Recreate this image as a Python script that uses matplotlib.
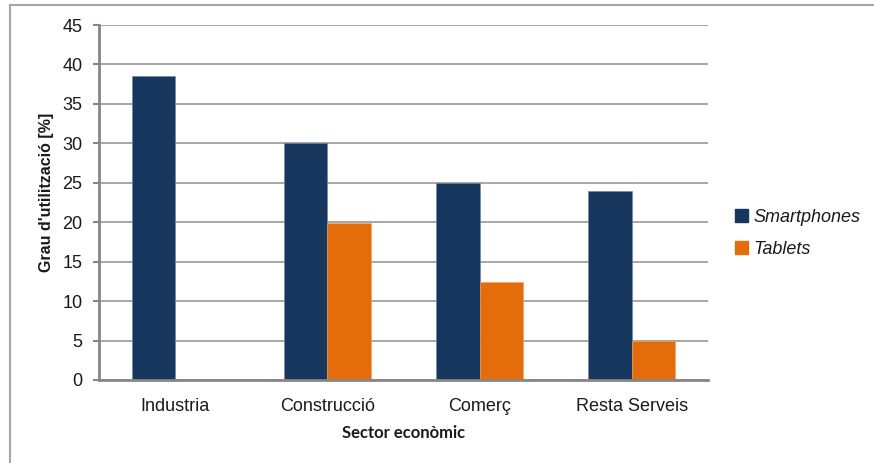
import matplotlib
matplotlib.use("Agg")
import matplotlib.pyplot as plt
from matplotlib.lines import Line2D
from matplotlib.patches import Patch
import numpy as np

categories = ["Industria", "Construcció", "Comerç", "Resta Serveis"]
smartphones = [38.5, 30.0, 25.0, 24.0]
tablets = [0.0, 19.9, 12.4, 4.9]
series_names = ["Smartphones", "Tablets"]
y_ticks = [0, 5, 10, 15, 20, 25, 30, 35, 40, 45]

plt.rcParams["font.family"] = ["Liberation Sans", "DejaVu Sans"]

navy = "#17375E"
orange = "#E46C0A"
grid_col = "#A0A0A0"
axis_col = "#868686"

W, H = 874, 463
fig = plt.figure(figsize=(W / 100, H / 100), dpi=100)
fig.patch.set_facecolor("white")

ax = fig.add_axes([99 / W, 1 - 380 / H, (708 - 99) / W, (380 - 25) / H])

x = np.arange(len(categories))
bw = 1 / 3.5
ax.bar(x - bw / 2, smartphones, width=bw, color=navy, edgecolor="#6F82A0",
       linewidth=0.4, zorder=3)
ax.bar(x + bw / 2, tablets, width=bw, color=orange, edgecolor="#F0A060",
       linewidth=0.4, zorder=3)

ax.set_xlim(-0.5, len(categories) - 0.5)
ax.set_ylim(0, 45)
ax.set_yticks(y_ticks)
ax.set_xticks(x)
ax.set_xticklabels(categories)

ax.yaxis.grid(True, color=grid_col, linewidth=1.3, zorder=0)
ax.set_axisbelow(True)
for s in ["top", "right"]:
    ax.spines[s].set_visible(False)
for s in ["left", "bottom"]:
    ax.spines[s].set_color(axis_col)
    ax.spines[s].set_linewidth(2)
    ax.spines[s].set_zorder(4)

ax.tick_params(axis="y", direction="out", length=4.5, width=1.5, color=axis_col,
               pad=7.5, labelsize=13, labelcolor="#1a1a1a")
ax.tick_params(axis="x", length=0, pad=13, labelsize=13, labelcolor="#1a1a1a")

fig.text(47 / W, 1 - 192 / H, "Grau d'utilització [%]", rotation=90,
         ha="center", va="center", family="Liberation Sans", weight="bold",
         size=11.5, color="#1a1a1a")
fig.text(404 / W, 1 - 433 / H, "Sector econòmic", ha="center", va="center",
         family="Lato", weight="bold", size=12, color="#1a1a1a")

handles = [Patch(facecolor=navy, edgecolor=navy),
           Patch(facecolor=orange, edgecolor=orange)]
leg = fig.legend(handles, series_names, loc="upper left",
                 bbox_to_anchor=(731 / W, 1 - 205 / H), frameon=False,
                 prop=dict(family="Liberation Sans", style="italic", size=13),
                 handlelength=0.75, handleheight=0.75, handletextpad=0.3,
                 labelspacing=0.85, borderaxespad=0, borderpad=0.2)
for t in leg.get_texts():
    t.set_color("#1a1a1a")

# chart area frame (top and left edges)
fig.add_artist(Line2D([10 / W, 1], [1 - 5 / H, 1 - 5 / H], color="#A6A6A6",
                      linewidth=1.5, transform=fig.transFigure))
fig.add_artist(Line2D([10 / W, 10 / W], [0, 1 - 5 / H], color="#A6A6A6",
                      linewidth=1.5, transform=fig.transFigure))

fig.savefig("out.png", dpi=100, facecolor="white")
